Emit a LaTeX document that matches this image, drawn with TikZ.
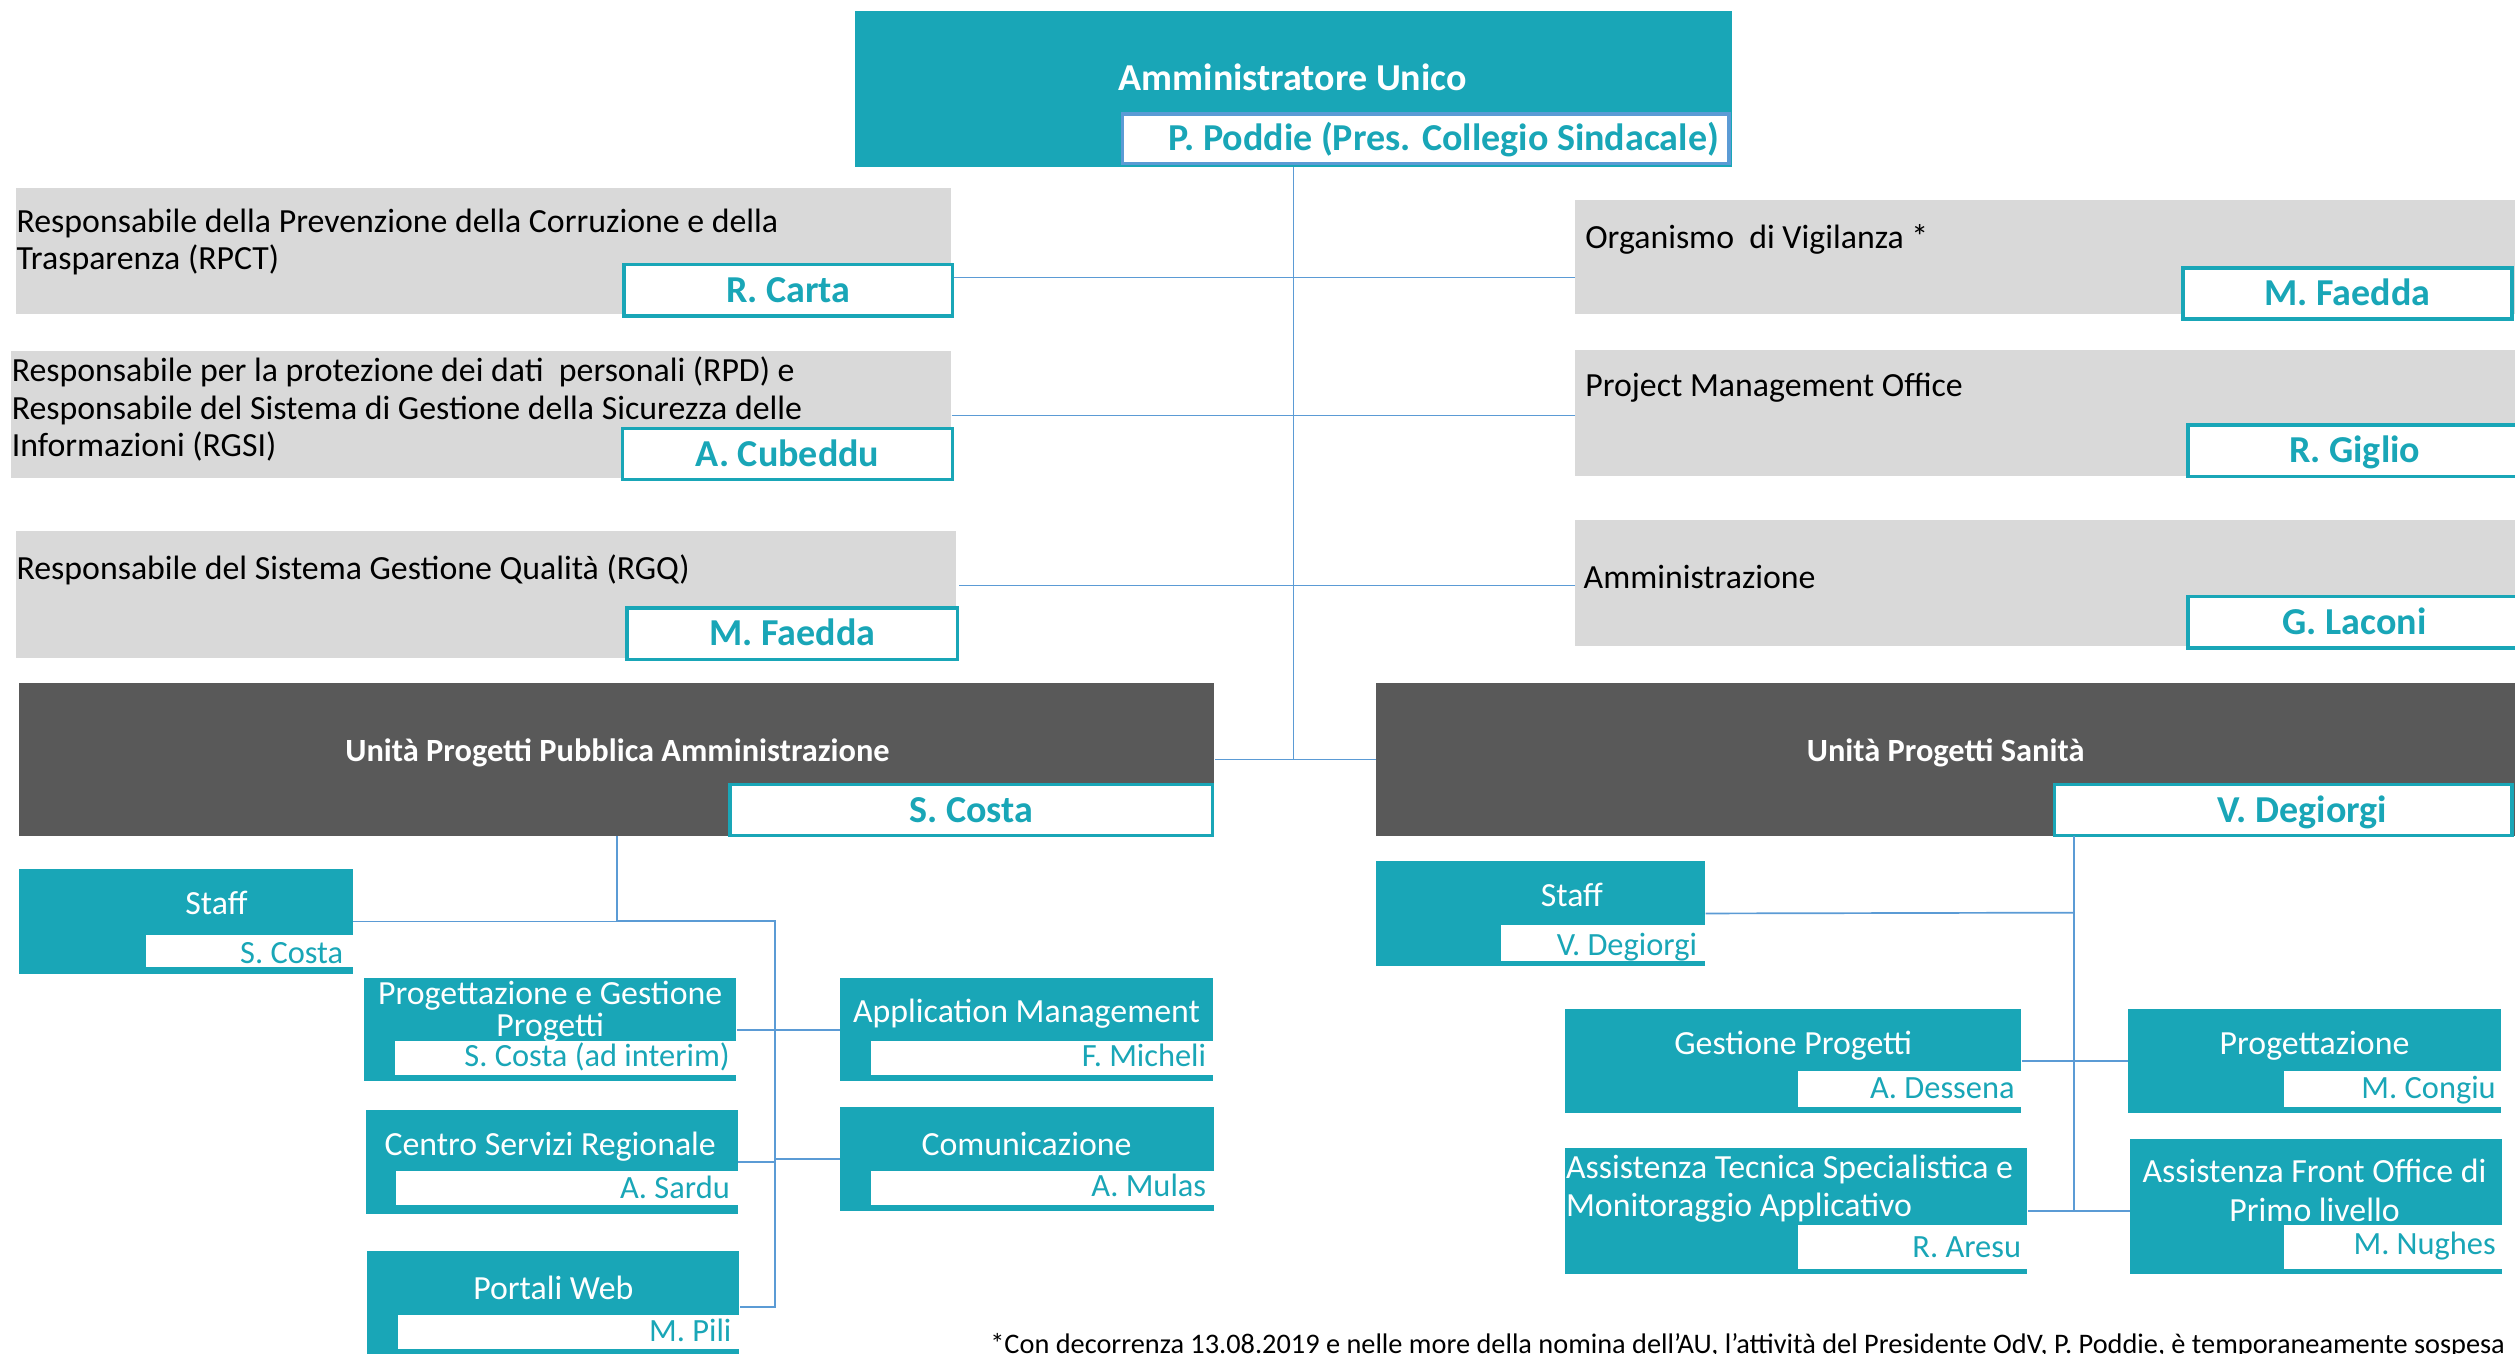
\documentclass[tikz,border=0pt]{standalone}
\usepackage{fontspec}
\setmainfont{Carlito}
\usetikzlibrary{fit,calc}
\definecolor{tealfill}{RGB}{25,166,183}
\definecolor{greyfill}{RGB}{217,217,217}
\definecolor{darkfill}{RGB}{89,89,89}
\definecolor{linkblue}{RGB}{91,155,213}
\tikzset{
    link/.style={draw=linkblue, line width=0.6pt},
    aubox/.style={fill=tealfill, inner sep=0pt},
    greybox/.style={fill=greyfill, inner sep=0pt},
    unitbox/.style={fill=darkfill, inner sep=0pt},
    teambox/.style={fill=tealfill, inner sep=0pt},
    namebox/.style={fill=white, draw=tealfill, line width=1.2pt, inner sep=0pt},
    teamname/.style={fill=white, inner sep=0pt},
    bigperson/.style={inner sep=0pt, yshift=-0.04cm, text=tealfill, font=\fontsize{13.5}{15}\selectfont\bfseries,
        text height=0.8em, text depth=0.16em},
    greytext/.style={anchor=west, inner sep=0pt, align=left,
        font=\fontsize{12}{13.3}\selectfont},
    autitle/.style={inner sep=0pt, text=white, font=\fontsize{13.5}{15}\selectfont\bfseries,
        text height=0.8em, text depth=0.16em},
    unittitle/.style={inner sep=0pt, text=white, font=\fontsize{11.5}{13}\selectfont\bfseries,
        text height=0.8em, text depth=0.16em},
    teamtitle/.style={inner sep=0pt, text=white, align=center,
        font=\fontsize{12}{13.7}\selectfont},
    teamperson/.style={anchor=east, inner sep=0pt, text=tealfill,
        font=\fontsize{11.5}{13}\selectfont, text height=0.8em, text depth=0.16em},
    footnote/.style={anchor=north east, inner sep=0pt, font=\fontsize{10.05}{12}\selectfont}
}
\begin{document}
\begin{tikzpicture}[x=0.02cm, y=-0.02cm]
    \useasboundingbox (0,0) rectangle (1568,844);
    % top
    \node[aubox, fit={(533,7)(1080,104)}] (au) {};
    \node[autitle] (aulbl) at (806,51) {Amministratore Unico};
    \node[namebox, draw=linkblue, fit={(700,71)(1078,102)}] (poddie) {};
    \node[bigperson] (poddielbl) at (900,86) {P. Poddie (Pres. Collegio Sindacale)};
    % staff functions, left
    \node[greybox, fit={(10,117)(593,196)}] (rpct) {};
    \node[greytext] (rpctlbl) at (10,151) {Responsabile della Prevenzione della Corruzione e della\\Trasparenza (RPCT)};
    \node[namebox, fit={(389,165)(594,197)}] (carta) {};
    \node[bigperson] (cartalbl) at (carta.center) {R. Carta};
    \node[greybox, fit={(7,219)(593,298)}] (rpd) {};
    \node[greytext] (rpdlbl) at (7,255) {Responsabile per la protezione dei dati\ \ personali (RPD) e\\Responsabile del Sistema di Gestione della Sicurezza delle\\Informazioni (RGSI)};
    \node[namebox, fit={(388,267)(594,299)}] (cubeddu) {};
    \node[bigperson] (cubeddulbl) at (cubeddu.center) {A. Cubeddu};
    \node[greybox, fit={(10,331)(596,410)}] (rgq) {};
    \node[greytext] (rgqlbl) at (10,355) {Responsabile del Sistema Gestione Qualità (RGQ)};
    \node[namebox, fit={(391,379)(597,411)}] (faeddaa) {};
    \node[bigperson] (faeddaalbl) at (faeddaa.center) {M. Faedda};
    % staff functions, right
    \node[greybox, fit={(982,125)(1570,196)}] (odv) {};
    \node[greytext] (odvlbl) at (988,149) {Organismo\ \ di Vigilanza *};
    \node[namebox, fit={(1361,167)(1566,199)}] (faeddab) {};
    \node[bigperson] (faeddablbl) at (faeddab.center) {M. Faedda};
    \node[greybox, fit={(982,218)(1570,297)}] (pmo) {};
    \node[greytext] (pmolbl) at (988,242) {Project Management Office};
    \node[namebox, fit={(1364,265)(1572,297)}] (giglio) {};
    \node[bigperson] (gigliolbl) at (giglio.center) {R. Giglio};
    \node[greybox, fit={(982,324)(1570,403)}] (amm) {};
    \node[greytext] (ammlbl) at (987,360) {Amministrazione};
    \node[namebox, fit={(1364,372)(1572,404)}] (laconi) {};
    \node[bigperson] (laconilbl) at (laconi.center) {G. Laconi};
    % units
    \node[unitbox, fit={(12,426)(757,521)}] (upa) {};
    \node[unittitle] (upalbl) at (385,469) {Unità Progetti Pubblica Amministrazione};
    \node[namebox, fit={(455,489)(756,521)}] (costa) {};
    \node[bigperson] (costalbl) at (costa.center) {S. Costa};
    \node[unitbox, fit={(858,426)(1570,521)}] (ups) {};
    \node[unittitle] (upslbl) at (1213,469) {Unità Progetti Sanità};
    \node[namebox, fit={(1281,489)(1566,521)}] (degiorgi) {};
    \node[bigperson] (degiorgilbl) at ($(degiorgi.center)+(12,0)$) {V. Degiorgi};
    % teams, PA
    \node[teambox, fit={(12,542)(220,607)}] (staffa) {};
    \node[teamtitle] (staffalbl) at (135,563) {Staff};
    \node[teamname, fit={(91,583)(221,603)}] (staffan) {};
    \node[teamperson] (staffanlbl) at ($(staffan.east)+(-7,2)$) {S. Costa};
    \node[teambox, fit={(227,610)(459,674)}] (pgp) {};
    \node[teamtitle, font=\fontsize{12}{11.4}\selectfont] (pgplbl) at (343,631) {Progettazione e Gestione\\Progetti};
    \node[teamname, fit={(246,649)(460,670)}] (pgpn) {};
    \node[teamperson] (pgpnlbl) at ($(pgpn.east)+(-5,0)$) {S. Costa (ad interim)};
    \node[teambox, fit={(228,692)(460,757)}] (csr) {};
    \node[teamtitle] (csrlbl) at (343,715) {Centro Servizi Regionale};
    \node[teamname, fit={(247,730)(460,751)}] (csrn) {};
    \node[teamperson] (csrnlbl) at ($(csrn.east)+(-5,1)$) {A. Sardu};
    \node[teambox, fit={(229,780)(461,850)}] (web) {};
    \node[teamtitle] (weblbl) at (345,803) {Portali Web};
    \node[teamname, fit={(248,820)(461,841)}] (webn) {};
    \node[teamperson] (webnlbl) at ($(webn.east)+(-5,0)$) {M. Pili};
    \node[teambox, fit={(524,610)(756,674)}] (appm) {};
    \node[teamtitle] (appmlbl) at (640,632) {Application Management};
    \node[teamname, fit={(543,649)(757,670)}] (appmn) {};
    \node[teamperson] (appmnlbl) at ($(appmn.east)+(-5,0)$) {F. Micheli};
    \node[teambox, fit={(524,690)(757,755)}] (com) {};
    \node[teamtitle] (comlbl) at (640,713) {Comunicazione};
    \node[teamname, fit={(543,730)(757,751)}] (comn) {};
    \node[teamperson] (comnlbl) at ($(comn.east)+(-5,0)$) {A. Mulas};
    % teams, Sanita
    \node[teambox, fit={(858,537)(1063,602)}] (staffb) {};
    \node[teamtitle] (staffblbl) at (980,558) {Staff};
    \node[teamname, fit={(936,577)(1064,599)}] (staffbn) {};
    \node[teamperson] (staffbnlbl) at ($(staffbn.east)+(-6,2)$) {V. Degiorgi};
    \node[teambox, fit={(976,629)(1260,694)}] (gp) {};
    \node[teamtitle] (gplbl) at (1118,652) {Gestione Progetti};
    \node[teamname, fit={(1121,668)(1261,690)}] (gpn) {};
    \node[teamperson] (gpnlbl) at ($(gpn.east)+(-5,0)$) {A. Dessena};
    \node[teambox, fit={(1327,629)(1559,694)}] (prg) {};
    \node[teamtitle] (prglbl) at (1443,652) {Progettazione};
    \node[teamname, fit={(1424,668)(1560,690)}] (prgn) {};
    \node[teamperson] (prgnlbl) at ($(prgn.east)+(-4,0)$) {M. Congiu};
    \node[teambox, fit={(976,716)(1264,794)}] (ats) {};
    \node[teamtitle, anchor=west, align=left] (atslbl) at (976,741) {Assistenza Tecnica Specialistica e\\Monitoraggio Applicativo};
    \node[teamname, fit={(1121,764)(1265,791)}] (atsn) {};
    \node[teamperson] (atsnlbl) at ($(atsn.east)+(-5,1)$) {R. Aresu};
    \node[teambox, fit={(1328,710)(1560,794)}] (afo) {};
    \node[teamtitle] (afolbl) at (1443,742) {Assistenza Front Office di\\Primo livello};
    \node[teamname, fit={(1424,764)(1561,791)}] (afon) {};
    \node[teamperson] (afonlbl) at ($(afon.east)+(-5,-1)$) {M. Nughes};
    % connectors
    \coordinate (j1) at (806,173);
    \coordinate (j2) at (806,259);
    \coordinate (j3) at (806,365);
    \draw[link] (au.south) -- (au.south |- upa.east);
    \draw[link] (upa.east) -- (ups.west);
    \draw[link] (carta.east |- j1) -- (j1) -- (odv.west |- j1);
    \draw[link] (rpd.east |- j2) -- (j2) -- (pmo.west |- j2);
    \draw[link] (faeddaa.east |- j3) -- (j3) -- (amm.west |- j3);
    \coordinate (sa) at (483,574);
    \draw[link] (upa.south) |- (staffa.east);
    \draw[link] (upa.south |- sa) -- (sa) |- (web.east);
    \draw[link] (pgp.east) -- (appm.west);
    \draw[link] (csr.east) -- (sa |- csr.east);
    \draw[link] (sa |- com.west) -- (com.west);
    \coordinate (sb) at (1293,569);
    \draw[link] (sb |- ups.south) -- (sb |- ats.east);
    \draw[link] (staffb.east) -- (sb);
    \draw[link] (gp.east) -- (prg.west);
    \draw[link] (ats.east) -- (afo.west |- ats.east);
    % note
    \node[footnote] (note) at (1562,831) {*Con decorrenza 13.08.2019 e nelle more della nomina dell’AU, l’attività del Presidente OdV, P. Poddie, è temporaneamente sospesa};
\end{tikzpicture}
\end{document}
